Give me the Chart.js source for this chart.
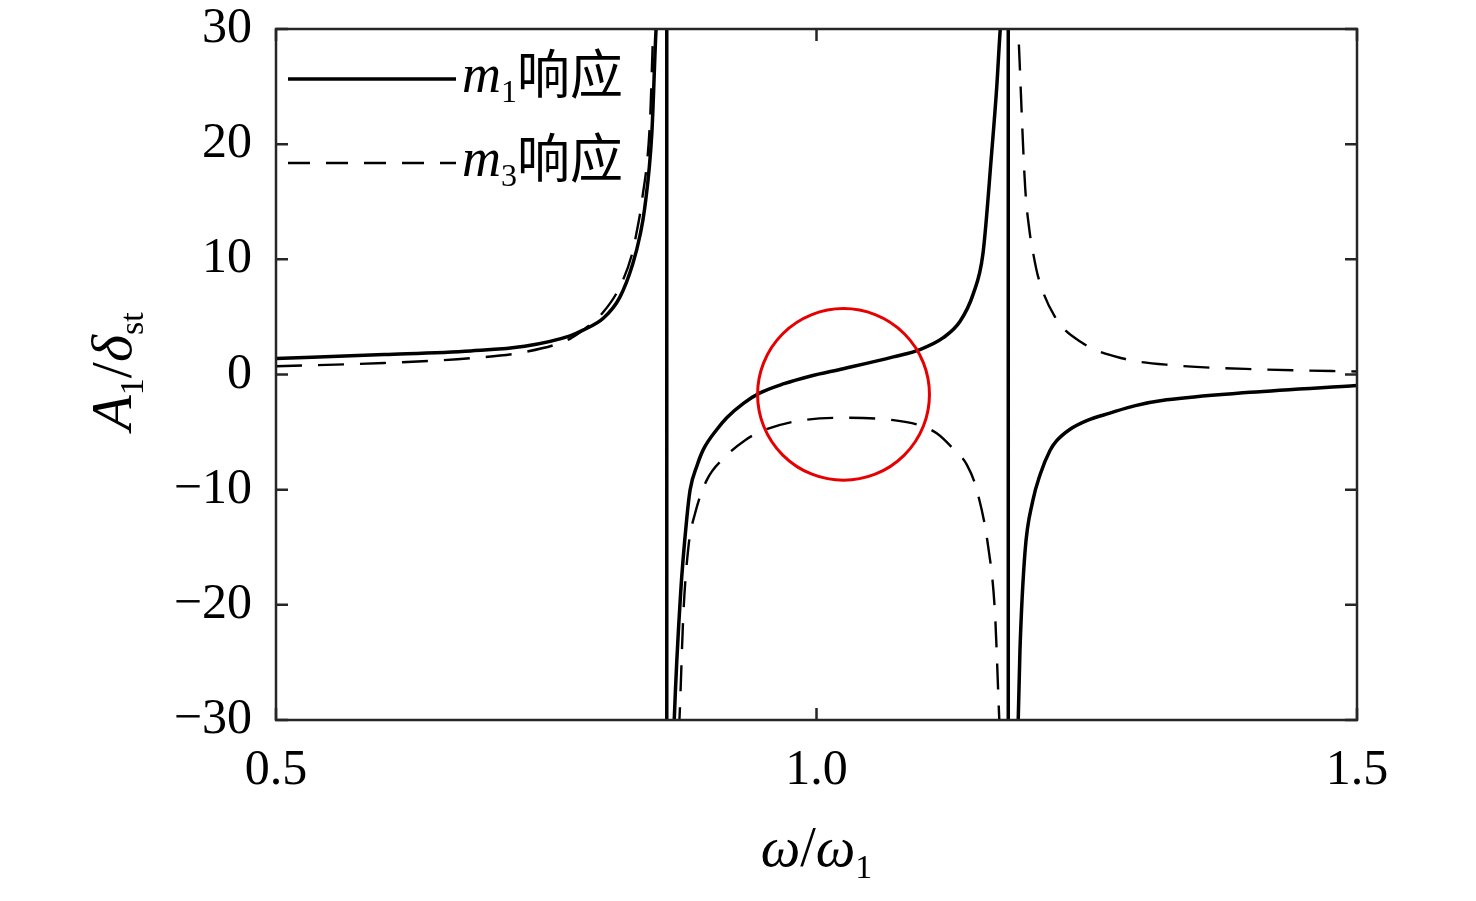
<!DOCTYPE html>
<html>
<head>
<meta charset="utf-8">
<script src="https://cdn.jsdelivr.net/npm/chart.js@4.4.0/dist/chart.umd.min.js"></script>
<style>
  html, body { margin: 0; padding: 0; background: #fff; }
  #wrap { width: 1476px; height: 901px; }
</style>
</head>
<body>
<div id="wrap"><canvas id="respChart"></canvas></div>
<script>
// m1 response (solid); +-400 marks the jump at each resonance
const m1X = [0.50, 0.60, 0.68, 0.73, 0.772, 0.784, 0.803, 0.818, 0.830, 0.837, 0.841, 0.8477, 0.8516, 0.8555, 0.8614,
  0.8616, 0.8650, 0.8684, 0.8743, 0.8800, 0.8831, 0.8895, 0.8954, 0.9080, 0.9170, 0.9324, 0.9478, 0.9700, 0.9940,
  1.0248, 1.0711, 1.0957, 1.1173, 1.1327, 1.1450, 1.1540, 1.1620, 1.1667, 1.1700, 1.1735, 1.1773,
  1.1775, 1.1830, 1.1866, 1.1882, 1.1928, 1.2000, 1.2068, 1.2160, 1.2222, 1.2346, 1.2500, 1.2714, 1.2950, 1.3239,
  1.4009, 1.50];
const m1Y = [1.40, 1.73, 2.05, 2.45, 3.35, 3.85, 4.9, 6.7, 9.6, 12.2, 14.4, 21, 30, 50, 400,
  -400, -60, -30, -19, -12.5, -10.0, -7.9, -6.5, -4.75, -3.75, -2.5, -1.6, -0.8, -0.15,
  0.5, 1.53, 2.17, 3.2, 4.6, 7.0, 10.5, 19.2, 24.9, 30, 50, 400,
  -400, -60, -30, -24, -15.5, -11, -8.7, -6.6, -5.75, -4.75, -4.0, -3.35, -2.7, -2.2,
  -1.55, -0.95];

// m3 response (dashed)
const m3X = [0.50, 0.60, 0.68, 0.73, 0.772, 0.784, 0.8026, 0.818, 0.8292, 0.8335, 0.8384, 0.846, 0.8491, 0.8540, 0.8614,
  0.8616, 0.8676, 0.8732, 0.8769, 0.8815, 0.8877, 0.8985, 0.9155, 0.934, 0.9478, 0.9786, 1.0248, 1.0711, 1.0950, 1.1112,
  1.128, 1.1389, 1.1482, 1.1589, 1.1651, 1.1691, 1.1733, 1.1773,
  1.1775, 1.1820, 1.1866, 1.193, 1.197, 1.2005, 1.205, 1.2206, 1.2467, 1.2835, 1.33, 1.416, 1.50];
const m3Y = [0.72, 1.0, 1.42, 1.95, 3.1, 3.85, 5.4, 7.6, 10.4, 12.3, 15.0, 22, 30, 50, 400,
  -400, -60, -30, -20.7, -15.0, -12.05, -9.17, -7.15, -5.7, -4.98, -4.1, -3.76, -3.96, -4.4, -5.1,
  -6.6, -7.8, -10.0, -15.0, -20.7, -30, -60, -400,
  400, 60, 30, 16.3, 12.5, 10.5, 8.5, 5.0, 2.7, 1.39, 0.8, 0.43, 0.26];

const xTicks = [0.5, 1.0, 1.5];
const yTicks = [-30, -20, -10, 0, 10, 20, 30];
const seriesNames = ["m1响应", "m3响应"];

// red circle marking the flat region (centre and radius in data units)
const circleCenter = [1.025, -1.73];
const circleRadius = [0.0795, 7.45];

const SERIF = '"Liberation Serif", "Times New Roman", serif';
const CJK = '"Noto Sans CJK SC", sans-serif';

function toPoints(xs, ys) {
  return xs.map((x, i) => ({ x: x, y: ys[i] }));
}

function drawParts(ctx, parts, x, y) {
  let cx = x;
  parts.forEach((p) => {
    ctx.font = p.font;
    ctx.fillText(p.t, cx, y + (p.dy || 0));
    cx += ctx.measureText(p.t).width;
  });
  return cx;
}

function partsWidth(ctx, parts) {
  let w = 0;
  parts.forEach((p) => {
    ctx.font = p.font;
    w += ctx.measureText(p.t).width;
  });
  return w;
}

const decorPlugin = {
  id: "decor",
  afterDatasetsDraw(chart) {
    const ctx = chart.ctx;
    const a = chart.chartArea;
    const xs = chart.scales.x;
    const ys = chart.scales.y;
    ctx.save();

    // red circle
    const cx = xs.getPixelForValue(circleCenter[0]);
    const cy = ys.getPixelForValue(circleCenter[1]);
    const rx = xs.getPixelForValue(circleCenter[0] + circleRadius[0]) - cx;
    const ry = cy - ys.getPixelForValue(circleCenter[1] + circleRadius[1]);
    ctx.strokeStyle = "#e60000";
    ctx.lineWidth = 3;
    ctx.beginPath();
    ctx.ellipse(cx, cy, rx, ry, 0, 0, Math.PI * 2);
    ctx.stroke();

    // box and inward ticks
    ctx.strokeStyle = "#262626";
    ctx.lineWidth = 2.5;
    ctx.strokeRect(a.left, a.top, a.right - a.left, a.bottom - a.top);
    const tl = 12;
    ctx.beginPath();
    xTicks.forEach((v) => {
      const px = xs.getPixelForValue(v);
      ctx.moveTo(px, a.bottom); ctx.lineTo(px, a.bottom - tl);
      ctx.moveTo(px, a.top); ctx.lineTo(px, a.top + tl);
    });
    yTicks.forEach((v) => {
      const py = ys.getPixelForValue(v);
      ctx.moveTo(a.left, py); ctx.lineTo(a.left + tl, py);
      ctx.moveTo(a.right, py); ctx.lineTo(a.right - tl, py);
    });
    ctx.stroke();

    // legend
    ctx.fillStyle = "#000";
    ctx.strokeStyle = "#000";
    ctx.textBaseline = "alphabetic";
    ctx.textAlign = "left";
    const rows = [
      { y: 79, base: 92, dash: [], width: 3.5 },
      { y: 163, base: 176, dash: [22, 16], width: 2.4 },
    ];
    rows.forEach((r, i) => {
      ctx.setLineDash(r.dash);
      ctx.lineWidth = r.width;
      ctx.beginPath();
      ctx.moveTo(a.left + 12, r.y);
      ctx.lineTo(a.left + 180, r.y);
      ctx.stroke();
      ctx.setLineDash([]);
      drawParts(ctx, [
        { t: seriesNames[i].charAt(0), font: "italic 54px " + SERIF },
        { t: seriesNames[i].charAt(1), font: "32px " + SERIF, dy: 10 },
        { t: seriesNames[i].slice(2), font: "53px " + CJK, dy: 2 },
      ], a.left + 186, r.base);
    });

    // x title
    const xt = [
      { t: "ω", font: "italic 56px " + SERIF },
      { t: "/", font: "56px " + SERIF },
      { t: "ω", font: "italic 56px " + SERIF },
      { t: "1", font: "34px " + SERIF, dy: 12 },
    ];
    const xMid = (a.left + a.right) / 2;
    drawParts(ctx, xt, xMid - partsWidth(ctx, xt) / 2, 866);

    // y title
    const yt = [
      { t: "A", font: "italic 58px " + SERIF },
      { t: "1", font: "34px " + SERIF, dy: 12 },
      { t: "/", font: "58px " + SERIF },
      { t: "δ", font: "italic 58px " + SERIF },
      { t: "st", font: "34px " + SERIF, dy: 12 },
    ];
    ctx.translate(131, (a.top + a.bottom) / 2 - 3);
    ctx.rotate(-Math.PI / 2);
    drawParts(ctx, yt, -partsWidth(ctx, yt) / 2, 0);
    ctx.restore();
  },
};

const ctx = document.getElementById("respChart").getContext("2d");
new Chart(ctx, {
  type: "line",
  data: {
    datasets: [
      {
        label: seriesNames[0],
        data: toPoints(m1X, m1Y),
        borderColor: "#000",
        borderWidth: 3.5,
        pointRadius: 0,
        fill: false,
        cubicInterpolationMode: "monotone",
        clip: 0,
      },
      {
        label: seriesNames[1],
        data: toPoints(m3X, m3Y),
        borderColor: "#000",
        borderWidth: 2.4,
        borderDash: [26, 16],
        pointRadius: 0,
        fill: false,
        cubicInterpolationMode: "monotone",
        clip: 0,
      },
    ],
  },
  options: {
    responsive: true,
    maintainAspectRatio: false,
    animation: false,
    layout: { padding: { left: 0, top: 29, right: 119, bottom: 0 } },
    plugins: {
      legend: { display: false },
      tooltip: { enabled: false },
    },
    scales: {
      x: {
        type: "linear",
        min: 0.5,
        max: 1.5,
        afterBuildTicks: (s) => { s.ticks = xTicks.map((v) => ({ value: v })); },
        afterFit: (s) => { s.height = 181; s.paddingLeft = 0; s.paddingRight = 0; },
        grid: { display: false, drawTicks: false },
        border: { display: false },
        ticks: {
          padding: 21,
          color: "#000",
          font: { family: SERIF, size: 50 },
          callback: (v) => Number(v).toFixed(1),
        },
      },
      y: {
        type: "linear",
        min: -30,
        max: 30,
        afterBuildTicks: (s) => { s.ticks = yTicks.map((v) => ({ value: v })); },
        afterFit: (s) => { s.width = 276; s.paddingTop = 0; s.paddingBottom = 0; },
        grid: { display: false, drawTicks: false },
        border: { display: false },
        ticks: {
          padding: 24,
          color: "#000",
          font: { family: SERIF, size: 50 },
          callback: (v) => String(v).replace("-", "\u2212"),
        },
      },
    },
  },
  plugins: [decorPlugin],
});
</script>
</body>
</html>
